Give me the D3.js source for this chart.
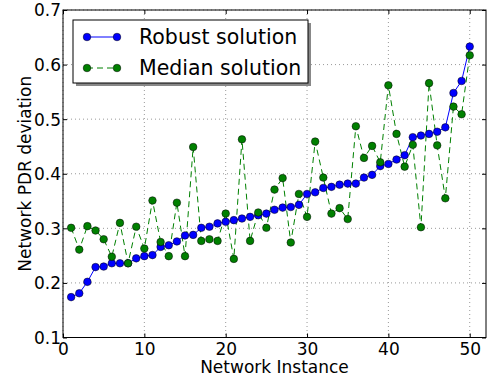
<!DOCTYPE html>
<meta charset="utf-8">
<style>
body { margin: 0; background: #fff; }
text { font-family: "DejaVu Sans", sans-serif; fill: #000; }
.grid line { stroke: #999; stroke-dasharray: 1,3; }
</style>
<svg id="chart" width="487" height="378"></svg>
<script src="https://cdn.jsdelivr.net/npm/d3@7"></script>
<script>
// values
var instances = d3.range(1, 51);
var robust = [0.174, 0.181, 0.202, 0.229, 0.230, 0.236, 0.236, 0.236, 0.245, 0.249,
              0.251, 0.266, 0.269, 0.276, 0.287, 0.288, 0.301, 0.303, 0.309, 0.312,
              0.315, 0.318, 0.321, 0.324, 0.327, 0.334, 0.338, 0.339, 0.343, 0.363,
              0.366, 0.374, 0.376, 0.380, 0.382, 0.382, 0.393, 0.398, 0.414, 0.418,
              0.426, 0.434, 0.467, 0.470, 0.473, 0.477, 0.485, 0.548, 0.570, 0.633];
var median = [0.301, 0.261, 0.304, 0.296, 0.280, 0.248, 0.310, 0.236, 0.303, 0.263,
              0.351, 0.275, 0.249, 0.347, 0.249, 0.449, 0.277, 0.280, 0.277, 0.327,
              0.244, 0.463, 0.277, 0.329, 0.301, 0.371, 0.392, 0.274, 0.363, 0.321,
              0.459, 0.393, 0.327, 0.337, 0.317, 0.487, 0.429, 0.451, 0.421, 0.562,
              0.473, 0.413, 0.453, 0.302, 0.566, 0.452, 0.355, 0.523, 0.509, 0.617];
var xTicks = [0, 10, 20, 30, 40, 50];
var yTicks = [0.1, 0.2, 0.3, 0.4, 0.5, 0.6, 0.7];
var seriesNames = ["Robust solution", "Median solution"];

var svg = d3.select("#chart");
var mLeft = 63, mRight = 486, mTop = 10, mBottom = 337.5;

var x = d3.scaleLinear().domain([0, 52]).range([mLeft, mRight]);
var y = d3.scaleLinear().domain([0.1, 0.7]).range([mBottom, mTop]);

// grid
var grid = svg.append("g").attr("class", "grid");
grid.selectAll(".vx").data(xTicks).enter().append("line")
  .attr("x1", function(d) { return x(d); }).attr("x2", function(d) { return x(d); })
  .attr("y1", mTop).attr("y2", mBottom);
grid.selectAll(".hy").data(yTicks).enter().append("line")
  .attr("y1", function(d) { return y(d); }).attr("y2", function(d) { return y(d); })
  .attr("x1", mLeft).attr("x2", mRight);

// axes with inward ticks
var fmtY = d3.format(".1f");
var axB = svg.append("g").attr("transform", "translate(0," + mBottom + ")")
  .call(d3.axisBottom(x).tickValues(xTicks).tickSizeInner(-4).tickSizeOuter(0).tickPadding(8));
var axT = svg.append("g").attr("transform", "translate(0," + mTop + ")")
  .call(d3.axisTop(x).tickValues(xTicks).tickSizeInner(-4).tickSizeOuter(0).tickFormat(""));
var axL = svg.append("g").attr("transform", "translate(" + mLeft + ",0)")
  .call(d3.axisLeft(y).tickValues(yTicks).tickSizeInner(-4).tickSizeOuter(0).tickPadding(6).tickFormat(fmtY));
var axR = svg.append("g").attr("transform", "translate(" + mRight + ",0)")
  .call(d3.axisRight(y).tickValues(yTicks).tickSizeInner(-4).tickSizeOuter(0).tickFormat(""));
[axB, axT, axL, axR].forEach(function(a) {
  a.select(".domain").remove();
  a.selectAll("line").attr("stroke", "#000");
  a.selectAll("text").style("font-size", "17px").style("font-family", "DejaVu Sans, sans-serif");
});
axB.selectAll("text").attr("dy", "0.71em").attr("y", 5);
axL.selectAll("text").attr("dy", "0.35em").attr("x", -2);

svg.append("rect").attr("x", mLeft).attr("y", mTop)
  .attr("width", mRight - mLeft).attr("height", mBottom - mTop)
  .attr("fill", "none").attr("stroke", "#000").attr("stroke-width", 1);

// lines
var line = function(vals) {
  return d3.line().x(function(d, i) { return x(instances[i]); }).y(function(d) { return y(d); })(vals);
};
svg.append("path").attr("d", line(robust)).attr("fill", "none")
  .attr("stroke", "#0000ff").attr("stroke-width", 1);
svg.append("path").attr("d", line(median)).attr("fill", "none")
  .attr("stroke", "#008000").attr("stroke-width", 1).attr("stroke-dasharray", "6,4");

svg.selectAll(".pr").data(robust).enter().append("circle")
  .attr("cx", function(d, i) { return x(instances[i]); }).attr("cy", function(d) { return y(d); })
  .attr("r", 3.8).attr("fill", "#0000ff").attr("stroke", "#000").attr("stroke-width", 0.5);
svg.selectAll(".pm").data(median).enter().append("circle")
  .attr("cx", function(d, i) { return x(instances[i]); }).attr("cy", function(d) { return y(d); })
  .attr("r", 3.8).attr("fill", "#008000").attr("stroke", "#000").attr("stroke-width", 0.5);

// axis titles
svg.append("text").attr("x", (mLeft + mRight) / 2).attr("y", 373)
  .attr("text-anchor", "middle").style("font-size", "17px").text("Network Instance");
svg.append("text").attr("transform", "translate(31," + (mTop + mBottom) / 2 + ") rotate(-90)")
  .attr("text-anchor", "middle").style("font-size", "17px").text("Network PDR deviation");

// legend
var lg = svg.append("g");
lg.append("rect").attr("x", 76).attr("y", 23).attr("width", 235).attr("height", 63).attr("fill", "#888");
lg.append("rect").attr("x", 73).attr("y", 20).attr("width", 235).attr("height", 63)
  .attr("fill", "#fff").attr("stroke", "#000").attr("stroke-width", 1);
var styles = [{c: "#0000ff", dash: null}, {c: "#008000", dash: "6,4"}];
seriesNames.forEach(function(name, i) {
  var yy = 37 + i * 31;
  lg.append("line").attr("x1", 87).attr("x2", 117).attr("y1", yy).attr("y2", yy)
    .attr("stroke", styles[i].c).attr("stroke-dasharray", styles[i].dash);
  [87, 117].forEach(function(px) {
    lg.append("circle").attr("cx", px).attr("cy", yy).attr("r", 3.8)
      .attr("fill", styles[i].c).attr("stroke", "#000").attr("stroke-width", 0.5);
  });
  lg.append("text").attr("x", 139).attr("y", yy).attr("dy", "0.35em")
    .style("font-size", "20.5px").text(name);
});
</script>
